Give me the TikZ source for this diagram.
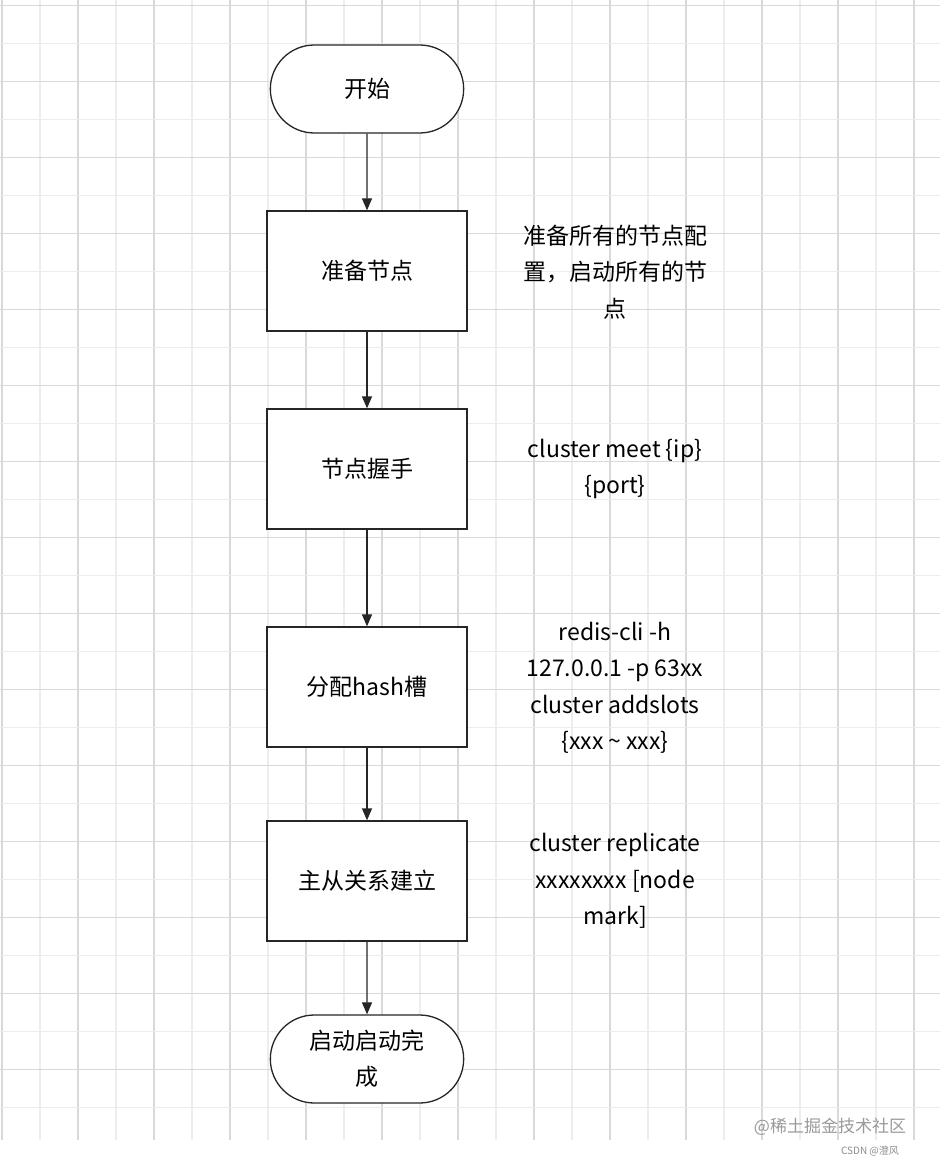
\documentclass[tikz,border=0pt]{standalone}
\usepackage{fontspec}
\setmainfont{Noto Sans CJK SC}
\usetikzlibrary{arrows.meta,shapes.misc}
\begin{document}
\begin{tikzpicture}[x=1pt,y=-1pt,
  box/.style={draw=black!85,line width=1.3pt,fill=white,minimum width=200pt,minimum height=120pt,font=\fontsize{23}{28}\selectfont},
  term/.style={draw=black!85,line width=1.3pt,fill=white,rounded rectangle,minimum width=200pt,minimum height=88pt,align=center,font=\fontsize{23}{36}\selectfont},
  note/.style={align=center,font=\fontsize{23}{36.5}\selectfont},
  arr/.style={-{Triangle[length=12pt,width=10pt]},line width=1.3pt,draw=black!85},
  gA/.style={line width=1.2pt,draw=black!15},
  gB/.style={line width=1.2pt,draw=black!7}]
\useasboundingbox (0,0) rectangle (940,1166);
\fill[white] (0,0) rectangle (940,1166);
\foreach \xx in {40,116,...,940} \draw[gB] (\xx,0) -- (\xx,1140);
\foreach \xx in {2,78,...,940} \draw[gA] (\xx,0) -- (\xx,1140);
\foreach \yy in {43.7,119.7,...,1140} \draw[gB] (0,\yy) -- (940,\yy);
\foreach \yy in {5.7,81.7,...,1142} \draw[gA] (0,\yy) -- (940,\yy);
\node[term] (s) at (367,89) {开始};
\node[box] (b1) at (367,271) {准备节点};
\node[box] (b2) at (367,469) {节点握手};
\node[box] (b3) at (367,687) {分配hash槽};
\node[box] (b4) at (367,881) {主从关系建立};
\node[term] (e) at (367,1059) {启动启动完\\成};
\draw[arr] (s) -- (b1);
\draw[arr] (b1) -- (b2);
\draw[arr] (b2) -- (b3);
\draw[arr] (b3) -- (b4);
\draw[arr] (b4) -- (e);
\node[note] (n1) at (615,272) {准备所有的节点配\\置，启动所有的节\\点};
\node[note] (n2) at (615,469) {cluster meet \{ip\}\\\{port\}};
\node[note] (n3) at (615,688) {redis-cli -h\\127.0.0.1 -p 63xx\\cluster addslots\\\{xxx \textasciitilde{} xxx\}};
\node[note] (n4) at (615,881) {cluster replicate\\xxxxxxxx [node\\mark]};
\node[text=black!40,font=\fontsize{17}{20}\selectfont] (w1) at (830,1127) {@稀土掘金技术社区};
\node[text=black!45,font=\fontsize{10}{12}\selectfont] (w2) at (870,1151) {CSDN @澄风};
\end{tikzpicture}
\end{document}
